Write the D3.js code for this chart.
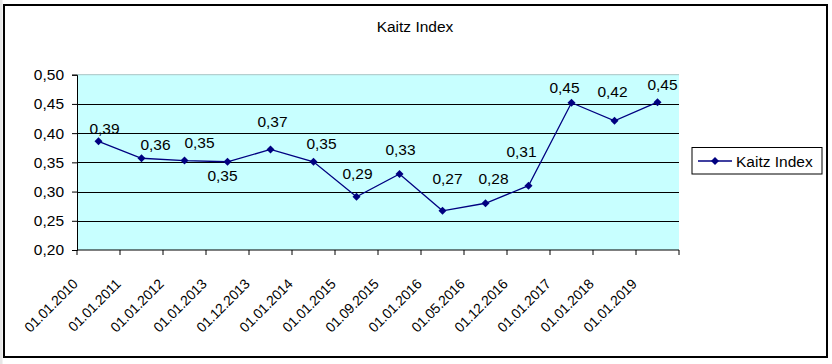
<!DOCTYPE html>
<html><head><meta charset="utf-8">
<script src="https://cdn.jsdelivr.net/npm/d3@7"></script>
<style>
html,body{margin:0;padding:0;background:#fff;}
svg{display:block;font-family:"Liberation Sans",Arial,sans-serif;}
</style></head>
<body>
<svg id="chart" width="832" height="364"></svg>
<script>
const title = "Kaitz Index";
const seriesName = "Kaitz Index";
const categories = ["01.01.2010","01.01.2011","01.01.2012","01.01.2013","01.12.2013","01.01.2014","01.01.2015","01.09.2015","01.01.2016","01.05.2016","01.12.2016","01.01.2017","01.01.2018","01.01.2019"];
const values = [0.386,0.357,0.353,0.351,0.372,0.351,0.291,0.330,0.267,0.280,0.310,0.452,0.421,0.453];
const yTicks = [0.20,0.25,0.30,0.35,0.40,0.45,0.50];
// label placement offsets (style, not data)
const labelDx = [6,14,15,-5,2,8,1,1,5,8,-7,-7,-2,5];
const labelDy = [-13,-14,-18,14,-28,-18,-23,-25,-32,-25,-34,-15,-29,-18];

const svg = d3.select("#chart");
const fmt = v => d3.format(".2f")(v).replace(".", ",");

// outer frame
svg.append("rect").attr("x",0).attr("y",0).attr("width",2.5).attr("height",364).attr("fill","#e6e6e6");
svg.append("rect").attr("x",4).attr("y",5).attr("width",823).attr("height",352)
  .attr("fill","#fff").attr("stroke","#000").attr("stroke-width",2);

const pL = 77, pR = 679, pT = 74.7, pB = 250;
const x = d3.scaleBand().domain(categories).range([pL,pR]).padding(0);
const y = d3.scaleLinear().domain([0.2,0.5]).range([pB,pT]);
const cx = c => x(c) + x.bandwidth()/2;

// plot area
svg.append("rect").attr("x",pL).attr("y",y(0.5)).attr("width",pR-pL).attr("height",pB-y(0.5))
  .attr("fill","#C8FFFF");
svg.append("line").attr("x1",pL).attr("x2",pR).attr("y1",y(0.5)).attr("y2",y(0.5))
  .attr("stroke","#a8c4c4").attr("stroke-width",1);
// gridlines
svg.append("g").selectAll("line").data(yTicks.filter(t => t > 0.2 && t < 0.5)).join("line")
  .attr("x1",pL).attr("x2",pR).attr("y1",d=>Math.round(y(d))+0.5).attr("y2",d=>Math.round(y(d))+0.5)
  .attr("stroke","#000").attr("stroke-width",1);

// y axis
const yAxis = d3.axisLeft(y).tickValues(yTicks).tickFormat(fmt).tickSize(5).tickPadding(8);
const gy = svg.append("g").attr("transform",`translate(${pL},0)`).call(yAxis);
gy.select(".domain").attr("stroke","#000");
gy.selectAll(".tick line").attr("stroke","#000");
gy.selectAll("text").attr("font-size",15.5).attr("fill","#000").attr("font-family","Liberation Sans, Arial, sans-serif");

// x axis line and ticks at band boundaries
const gx = svg.append("g");
gx.append("line").attr("x1",pL).attr("x2",pR).attr("y1",pB).attr("y2",pB).attr("stroke","#000");
const bounds = categories.map(c => x(c)).concat([x.range()[1]]);
gx.selectAll("line.tk").data(bounds).join("line").attr("class","tk")
  .attr("x1",d=>d).attr("x2",d=>d).attr("y1",pB).attr("y2",pB+5).attr("stroke","#000");
gx.selectAll("text").data(categories).join("text")
  .attr("transform",d=>`translate(${cx(d)-20},285) rotate(-45)`)
  .attr("text-anchor","end").attr("font-size",14).attr("letter-spacing",-0.2).attr("fill","#000")
  .text(d=>d);

// line
const line = d3.line().x((d,i)=>cx(categories[i])).y(d=>y(d));
svg.append("path").datum(values).attr("d",line).attr("fill","none").attr("stroke","#000080").attr("stroke-width",1.3);

const diamond = (px,py,r) => `M${px},${py-r}L${px+r},${py}L${px},${py+r}L${px-r},${py}Z`;
svg.append("g").selectAll("path").data(values).join("path")
  .attr("d",(d,i)=>diamond(cx(categories[i]),y(d),4)).attr("fill","#000080");

// data labels
svg.append("g").selectAll("text").data(values).join("text")
  .attr("x",(d,i)=>cx(categories[i])+labelDx[i])
  .attr("y",(d,i)=>y(d)+labelDy[i])
  .attr("dominant-baseline","central").attr("text-anchor","middle")
  .attr("font-size",15.5).attr("fill","#000").text(fmt);

// title
svg.append("text").attr("x",415).attr("y",32).attr("text-anchor","middle").attr("font-size",15.5).attr("fill","#000").text(title);

// legend
const lg = svg.append("g");
lg.append("rect").attr("x",692).attr("y",147.5).attr("width",130).attr("height",26.5)
  .attr("fill","#fff").attr("stroke","#000").attr("stroke-width",1);
lg.append("line").attr("x1",698).attr("x2",732).attr("y1",161).attr("y2",161).attr("stroke","#000080").attr("stroke-width",1.3);
lg.append("path").attr("d",diamond(715,161,4)).attr("fill","#000080");
lg.append("text").attr("x",736).attr("y",161).attr("dominant-baseline","central").attr("font-size",15.5).attr("fill","#000").text(seriesName);
</script>
</body></html>
